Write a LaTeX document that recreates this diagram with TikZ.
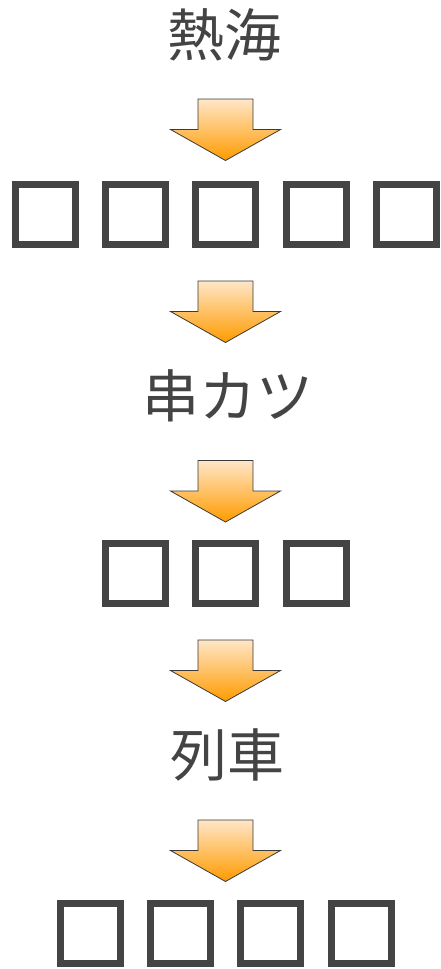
\documentclass[tikz,border=0pt]{standalone}
\usepackage{fontspec}
\newfontfamily\cjk{Noto Sans CJK JP}
\definecolor{ink}{HTML}{444444}
\definecolor{arrowtop}{RGB}{255,230,200}
\definecolor{arrowbot}{RGB}{255,155,0}
\definecolor{arrowline}{HTML}{3A3A3A}
\tikzset{
  label text/.style={text=ink, font=\cjk\fontsize{57}{60}\selectfont, inner sep=0pt, anchor=base},
  tofu/.style={draw=ink, line width=7pt, minimum size=60pt, inner sep=0pt, outer sep=0pt},
  blockarrow/.pic={
    \shade[top color=arrowtop, bottom color=arrowbot, draw=arrowline, line width=0.8pt, line join=miter]
      (-27.5,0) -- (27.5,0) -- (27.5,30.5) -- (55,30.5) -- (0,61.5) -- (-55,30.5) -- (-27.5,30.5) -- cycle;
  }
}
\begin{document}
\begin{tikzpicture}[x=1pt,y=-1pt]
\useasboundingbox (0,0) rectangle (441,969);
% texts
\node[label text] (t1) at (224,56) {熱海};
\node[label text] (t2) at (228,417.5) {串カツ};
\node[label text] (t3) at (227,776) {列車};
% row 1 boxes
\node[tofu] (r1a) at (45.2,214.5) {};
\node[tofu] (r1b) at (135.5,214.5) {};
\node[tofu] (r1c) at (225.8,214.5) {};
\node[tofu] (r1d) at (316.2,214.5) {};
\node[tofu] (r1e) at (406.7,214.5) {};
% row 2 boxes
\node[tofu] (r2a) at (135.7,573.5) {};
\node[tofu] (r2b) at (225.8,573.5) {};
\node[tofu] (r2c) at (316.2,573.5) {};
% row 3 boxes
\node[tofu] (r3a) at (90.2,933) {};
\node[tofu] (r3b) at (180.5,933) {};
\node[tofu] (r3c) at (270.7,933) {};
\node[tofu] (r3d) at (361,933) {};
% arrows
\pic at (225.5,99) {blockarrow};
\pic at (225.5,281) {blockarrow};
\pic at (225.5,460.5) {blockarrow};
\pic at (225.5,640) {blockarrow};
\pic at (225.5,820) {blockarrow};
\end{tikzpicture}
\end{document}
